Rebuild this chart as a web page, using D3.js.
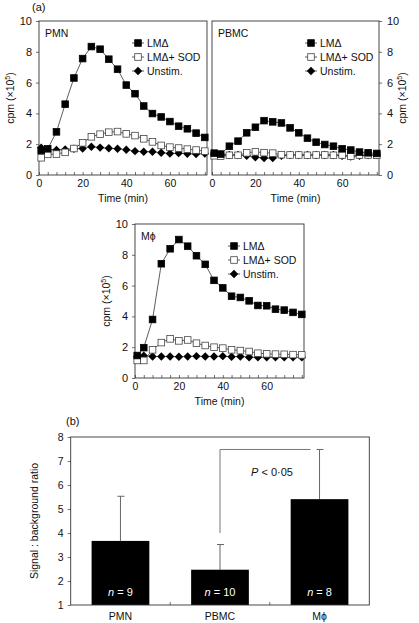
<!DOCTYPE html>
<html><head><meta charset="utf-8">
<script src="https://cdn.jsdelivr.net/npm/d3@7"></script>
<style>body{margin:0;background:#fff} text{font-family:"Liberation Sans",Arial,sans-serif;fill:#111}</style>
</head><body>
<svg id="c" width="419" height="623"></svg>
<script>
// ---------- data ----------
const times = [1,4,8,12,16,20,24,28,32,36,40,44,48,52,56,60,64,68,72,76];
const minorTicks = [0,4,8,12,16,20,24,28,32,36,40,44,48,52,56,60,64,68,72,76];
const xTickLabels = [0,20,40,60];
const yTicks = [0,2,4,6,8,10];
const seriesNames = ["LMΔ","LMΔ+ SOD","Unstim."];

const pmnLM    = [1.6,1.7,2.8,4.6,6.3,7.56,8.34,8.17,7.52,6.87,5.84,5.28,4.48,3.99,3.77,3.47,3.17,3.0,2.72,2.44];
const pmnSOD   = [1.12,1.34,1.36,1.47,1.72,2.09,2.48,2.65,2.78,2.82,2.67,2.56,2.35,2.15,1.92,1.81,1.75,1.68,1.62,1.55];
const pmnUn    = [1.77,1.66,1.62,1.66,1.7,1.72,1.83,1.78,1.74,1.7,1.64,1.55,1.51,1.51,1.44,1.4,1.42,1.38,1.36,1.4];

const pbmcLM   = [1.42,1.36,1.87,2.2,2.74,3.1,3.53,3.45,3.38,3.06,2.74,2.39,2.13,1.98,1.87,1.7,1.62,1.49,1.44,1.4];
const pbmcSOD  = [1.25,1.22,1.28,1.28,1.44,1.5,1.45,1.42,1.32,1.3,1.3,1.28,1.3,1.3,1.28,1.3,1.22,1.3,1.3,1.28];
const pbmcUn   = [1.35,1.32,1.3,1.3,1.25,1.15,1.1,1.1,1.25,1.3,1.3,1.3,1.3,1.3,1.3,1.25,1.2,1.25,1.3,1.3];

const mphLM    = [1.46,1.97,3.8,7.42,8.39,8.99,8.56,7.94,7.38,6.34,5.85,5.31,5.23,5.01,4.71,4.69,4.47,4.41,4.26,4.13];
const mphSOD   = [1.14,1.14,1.83,2.3,2.54,2.41,2.47,2.26,2.11,2.0,1.94,1.83,1.78,1.72,1.61,1.57,1.55,1.54,1.52,1.5];
const mphUn    = [1.4,1.45,1.4,1.4,1.4,1.38,1.4,1.42,1.4,1.4,1.42,1.38,1.4,1.35,1.35,1.35,1.35,1.35,1.35,1.35];

const barCats   = ["PMN","PBMC","Mϕ"];
const barMeans  = [3.67,2.47,5.41];
const barErrTop = [5.53,3.52,7.48];
const barN      = [9,10,8];
const barTicks  = [1,2,3,4,5,6,7,8];

// ---------- drawing ----------
const svg = d3.select("#c");
const FONT = "Liberation Sans, Arial";

function superLabel(g, x, y) {
  const t = g.append("text").attr("transform", `translate(${x},${y}) rotate(-90)`)
    .attr("text-anchor","middle").attr("font-size",10.5);
  t.append("tspan").text("cpm (×10");
  t.append("tspan").attr("dy",-4).attr("font-size",7).text("5");
  t.append("tspan").attr("dy",4).text(")");
}

function styleAxis(a, fs) {
  a.select(".domain").remove();
  a.selectAll("line").attr("stroke","#333").attr("stroke-width",0.7);
  a.selectAll("text").attr("font-size",fs).attr("fill","#111").attr("font-family",FONT);
}

function panel(opt) {
  const g = svg.append("g");
  const x = d3.scaleLinear().domain([0,77]).range([opt.x0, opt.x1]);
  const y = d3.scaleLinear().domain([0,10]).range([opt.y1, opt.y0]);

  const ax = g.append("g").attr("transform",`translate(0,${opt.y1})`)
    .call(d3.axisBottom(x).tickValues(minorTicks).tickSizeInner(-3).tickSizeOuter(0).tickPadding(5)
      .tickFormat(d => xTickLabels.includes(d) ? d : ""));
  styleAxis(ax, 10.5);

  if (opt.side === "left") {
    const ay = g.append("g").attr("transform",`translate(${opt.x0},0)`)
      .call(d3.axisLeft(y).tickValues(yTicks).tickSize(3).tickPadding(4));
    styleAxis(ay, 11);
    superLabel(g, opt.x0 - 25, (opt.y0+opt.y1)/2);
  } else {
    const ay = g.append("g").attr("transform",`translate(${opt.x1},0)`)
      .call(d3.axisRight(y).tickValues(yTicks).tickSize(3).tickPadding(5));
    styleAxis(ay, 11);
    superLabel(g, opt.x1 + 27, (opt.y0+opt.y1)/2);
  }

  g.append("rect").attr("x",opt.x0).attr("y",opt.y0).attr("width",opt.x1-opt.x0).attr("height",opt.y1-opt.y0)
    .attr("fill","none").attr("stroke","#333").attr("stroke-width",0.9);

  g.append("text").attr("x",(opt.x0+opt.x1)/2).attr("y",opt.y1+27).attr("text-anchor","middle")
    .attr("font-size",10.5).text("Time (min)");
  g.append("text").attr("x",opt.x0+6).attr("y",opt.y0+16).attr("font-size",10.5).text(opt.title);

  const line = d3.line().x((d,i)=>x(times[i])).y(d=>y(d));
  const styles = [
    {fill:"#000", shape:"sq"},
    {fill:"#fff", shape:"sq"},
    {fill:"#000", shape:"dia"}
  ];
  [2,1,0].forEach(k => {
    const vals = opt.data[k];
    g.append("path").datum(vals).attr("d",line).attr("fill","none").attr("stroke","#333").attr("stroke-width",0.8);
    drawMarkers(g, vals.map((v,i)=>[x(times[i]), y(v)]), styles[k]);
  });

  const lx = opt.x0 + 99, ly0 = opt.y0 + 22;
  styles.forEach((st,i) => {
    const yy = ly0 + i*14;
    g.append("line").attr("x1",lx-6).attr("x2",lx+6).attr("y1",yy).attr("y2",yy).attr("stroke","#333").attr("stroke-width",0.8);
    drawMarkers(g, [[lx,yy]], st);
    g.append("text").attr("x",lx+9).attr("y",yy+4).attr("font-size",10.5).text(seriesNames[i]);
  });
}

function drawMarkers(g, pts, st) {
  if (st.shape === "sq") {
    g.selectAll(null).data(pts).enter().append("rect")
      .attr("x",d=>d[0]-3.3).attr("y",d=>d[1]-3.3).attr("width",6.6).attr("height",6.6)
      .attr("fill",st.fill).attr("stroke",st.fill==="#fff"?"#444":"#000").attr("stroke-width",0.8);
  } else {
    g.selectAll(null).data(pts).enter().append("path")
      .attr("transform",d=>`translate(${d[0]},${d[1]})`)
      .attr("d","M0,-4.2L4.2,0L0,4.2L-4.2,0Z").attr("fill","#000");
  }
}

svg.append("text").attr("x",32).attr("y",11).attr("font-size",11).text("(a)");

panel({x0:39, x1:207, y0:21, y1:175, title:"PMN", side:"left", data:[pmnLM,pmnSOD,pmnUn]});
panel({x0:212, x1:379, y0:21, y1:175, title:"PBMC", side:"right", data:[pbmcLM,pbmcSOD,pbmcUn]});
panel({x0:135, x1:304, y0:224, y1:378, title:"Mϕ", side:"left", data:[mphLM,mphSOD,mphUn]});

// ---------- bar chart (b) ----------
(function(){
  const g = svg.append("g");
  const X0 = 70.7, X1 = 369.3, Y0 = 437, Y1 = 605;
  const x = d3.scaleBand().domain(barCats).range([X0,X1]).paddingInner(0.42).paddingOuter(0.21);
  const y = d3.scaleLinear().domain([1,8]).range([Y1,Y0]);

  g.append("text").attr("x",66).attr("y",425).attr("font-size",11).text("(b)");

  const ay = g.append("g").attr("transform",`translate(${X0},0)`)
    .call(d3.axisLeft(y).tickValues(barTicks).tickFormat(d3.format("d")).tickSize(3).tickPadding(4));
  styleAxis(ay, 10.5);

  const ax = g.append("g").attr("transform",`translate(0,${Y1})`)
    .call(d3.axisBottom(x).tickSize(0).tickPadding(8));
  styleAxis(ax, 10.5);
  [1,2].forEach(i => {
    const bx = X0 + (X1-X0)*i/3;
    g.append("line").attr("x1",bx).attr("x2",bx).attr("y1",Y1).attr("y2",Y1-3).attr("stroke","#333").attr("stroke-width",0.7);
  });

  g.append("text").attr("transform",`translate(38,${(Y0+Y1)/2}) rotate(-90)`).attr("text-anchor","middle")
    .attr("font-size",10.5).text("Signal : background ratio");

  barCats.forEach((c,i) => {
    const cx = x(c) + x.bandwidth()/2;
    g.append("line").attr("x1",cx).attr("x2",cx).attr("y1",y(barMeans[i])).attr("y2",y(barErrTop[i])).attr("stroke","#666").attr("stroke-width",1);
    g.append("line").attr("x1",cx-3).attr("x2",cx+4).attr("y1",y(barErrTop[i])).attr("y2",y(barErrTop[i])).attr("stroke","#666").attr("stroke-width",1);
  });

  g.selectAll(null).data(barCats).enter().append("rect")
    .attr("x",d=>x(d)).attr("width",x.bandwidth())
    .attr("y",(d,i)=>y(barMeans[i])).attr("height",(d,i)=>Y1-y(barMeans[i]))
    .attr("fill","#000");

  barCats.forEach((c,i) => {
    const t = g.append("text").attr("x",x(c)+x.bandwidth()/2).attr("y",Y1-9).attr("text-anchor","middle")
      .attr("font-size",11).style("fill","#fff");
    t.append("tspan").attr("font-style","italic").style("fill","#fff").text("n");
    t.append("tspan").style("fill","#fff").text(" = " + barN[i]);
  });

  const bx1 = x("PBMC") + x.bandwidth()/2;
  const bx2 = x("Mϕ") + x.bandwidth()/2 - 9;
  const by = y(barErrTop[2]);
  g.append("path").attr("d",`M${bx1},${y(4.0)}V${by}H${bx2}`).attr("fill","none").attr("stroke","#777").attr("stroke-width",1);
  const pt = g.append("text").attr("x",251).attr("y",476).attr("font-size",11);
  pt.append("tspan").attr("font-style","italic").text("P");
  pt.append("tspan").text(" < 0·05");

  g.append("rect").attr("x",X0).attr("y",Y0).attr("width",X1-X0).attr("height",Y1-Y0)
    .attr("fill","none").attr("stroke","#333").attr("stroke-width",0.9);
})();
</script>
</body></html>
